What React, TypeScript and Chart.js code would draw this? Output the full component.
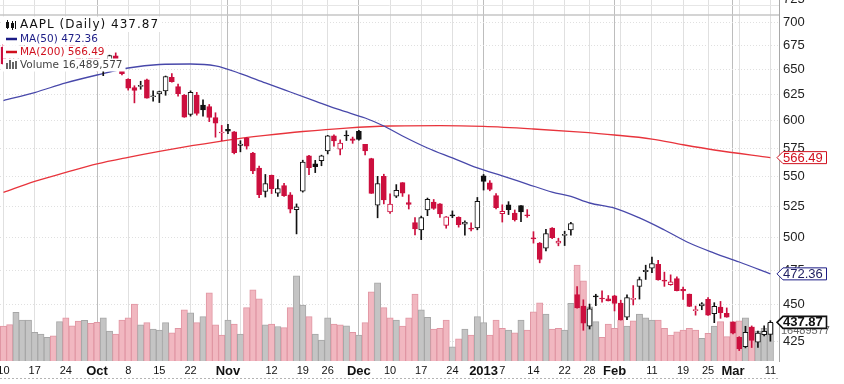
import React, { useEffect, useRef } from "react";
import { Chart, registerables } from "chart.js";

Chart.register(...registerables);

// ---------------- DATA ----------------
const TICKER = "AAPL";

const tradingDays = [
  "2012-09-10","2012-09-11","2012-09-12","2012-09-13","2012-09-14","2012-09-17","2012-09-18","2012-09-19","2012-09-20","2012-09-21",
  "2012-09-24","2012-09-25","2012-09-26","2012-09-27","2012-09-28",
  "2012-10-01","2012-10-02","2012-10-03","2012-10-04","2012-10-05","2012-10-08","2012-10-09","2012-10-10","2012-10-11","2012-10-12",
  "2012-10-15","2012-10-16","2012-10-17","2012-10-18","2012-10-19","2012-10-22","2012-10-23","2012-10-24","2012-10-25","2012-10-26","2012-10-31",
  "2012-11-01","2012-11-02","2012-11-05","2012-11-06","2012-11-07","2012-11-08","2012-11-09","2012-11-12","2012-11-13","2012-11-14",
  "2012-11-15","2012-11-16","2012-11-19","2012-11-20","2012-11-21","2012-11-23","2012-11-26","2012-11-27","2012-11-28","2012-11-29","2012-11-30",
  "2012-12-03","2012-12-04","2012-12-05","2012-12-06","2012-12-07","2012-12-10","2012-12-11","2012-12-12","2012-12-13","2012-12-14",
  "2012-12-17","2012-12-18","2012-12-19","2012-12-20","2012-12-21","2012-12-24","2012-12-26","2012-12-27","2012-12-28","2012-12-31",
  "2013-01-02","2013-01-03","2013-01-04","2013-01-07","2013-01-08","2013-01-09","2013-01-10","2013-01-11","2013-01-14","2013-01-15",
  "2013-01-16","2013-01-17","2013-01-18","2013-01-22","2013-01-23","2013-01-24","2013-01-25","2013-01-28","2013-01-29","2013-01-30","2013-01-31",
  "2013-02-01","2013-02-04","2013-02-05","2013-02-06","2013-02-07","2013-02-08","2013-02-11","2013-02-12","2013-02-13","2013-02-14",
  "2013-02-15","2013-02-19","2013-02-20","2013-02-21","2013-02-22","2013-02-25","2013-02-26","2013-02-27","2013-02-28",
  "2013-03-01","2013-03-04","2013-03-05","2013-03-06","2013-03-07","2013-03-08","2013-03-11",
];

// unadjusted daily prices
const opens = [
  680.45,665.11,666.85,677.37,689.96,699.35,699.88,700.26,699.16,702.41,686.86,688.25,668.74,664.29,678.75,
  671.16,661.81,664.86,671.25,665.2,646.88,638.65,639.74,646.5,629.56,632.35,635.37,648.87,639.59,631.05,612.42,631.0,621.44,620.0,609.43,594.88,
  598.22,595.89,583.52,590.23,573.84,560.63,540.42,554.15,538.91,545.5,537.53,525.2,540.71,571.37,564.25,567.17,575.9,589.55,577.27,590.22,586.79,
  593.65,581.8,568.91,528.94,553.4,523.51,536.48,547.99,531.15,514.75,508.93,525.0,531.47,530.0,512.47,520.35,519.0,513.54,510.29,510.53,
  553.82,547.88,536.97,522.0,529.21,522.5,528.55,521.0,502.68,498.52,494.64,510.31,498.52,504.56,508.81,460.0,451.69,437.83,458.5,457.0,456.98,
  459.11,453.91,444.05,456.47,463.25,474.0,476.5,479.51,467.21,464.52,468.85,461.1,457.69,446.0,449.25,453.85,443.82,448.43,444.05,
  438.0,427.8,421.48,434.51,424.5,429.45,429.75,
];
const highs = [
  683.29,670.1,669.9,685.5,696.98,699.8,702.33,703.99,700.06,705.07,695.12,692.78,672.69,682.17,681.11,
  676.75,666.35,671.86,674.25,666.0,647.56,640.49,644.98,647.2,635.38,635.13,650.3,652.79,642.06,631.77,635.38,633.9,626.55,622.0,614.0,601.96,
  603.0,596.25,587.77,590.74,574.54,562.23,555.0,554.5,550.48,547.45,539.5,530.0,567.5,571.75,567.37,572.0,590.0,590.42,585.8,594.25,588.4,
  594.59,581.8,569.25,553.33,555.2,538.51,546.26,547.99,537.64,518.8,520.0,534.9,533.7,530.2,519.67,524.25,519.46,516.25,514.48,535.4,
  555.0,549.67,538.63,529.3,531.89,525.01,528.72,525.32,507.5,498.99,509.44,510.75,502.22,507.88,514.99,465.73,456.23,453.21,460.2,462.6,459.28,
  459.48,455.94,459.74,466.5,470.0,478.81,484.94,482.38,473.64,471.64,470.16,462.73,457.69,449.17,451.6,455.12,451.54,452.44,447.87,
  438.18,428.2,435.19,435.43,432.01,435.43,439.01,
];
const lows = [
  662.1,656.5,656.0,674.77,687.89,694.61,696.42,699.57,693.62,699.36,682.2,673.0,661.2,660.35,666.75,
  655.5,650.65,662.63,665.55,651.28,636.11,623.55,637.0,628.1,625.3,623.85,631.0,644.0,630.0,609.62,610.76,611.7,610.64,605.55,591.0,587.7,
  594.17,575.75,577.6,580.09,555.75,535.29,535.75,538.65,536.36,536.18,522.62,505.75,539.88,554.75,556.6,562.6,573.09,580.1,572.26,585.25,582.68,
  585.5,572.13,538.77,518.63,530.0,522.18,535.29,536.27,525.8,505.03,501.23,520.36,525.5,518.88,510.24,518.71,511.12,504.66,508.12,509.0,
  541.63,541.0,525.83,515.2,521.25,515.99,515.52,519.02,498.51,483.38,492.5,502.03,496.4,496.63,504.77,450.25,435.0,435.86,452.12,454.5,455.4,
  448.35,442.0,442.22,452.58,454.12,468.25,473.25,467.74,463.22,464.02,459.92,453.85,448.8,442.82,446.6,442.57,437.66,440.65,441.4,
  429.98,419.0,420.75,420.96,421.06,428.61,425.14,
];
const closes = [
  662.74,660.59,669.79,682.98,691.28,699.78,701.91,702.1,698.7,700.09,690.79,673.54,665.18,681.32,667.1,
  659.39,661.31,671.45,666.8,652.59,638.17,635.85,640.91,628.1,629.71,634.76,649.79,644.61,632.64,609.84,634.03,613.36,616.83,609.54,604.0,595.32,
  596.54,576.8,584.62,582.85,558.0,537.75,547.06,542.83,542.9,536.88,525.62,527.68,565.73,560.91,561.7,571.5,589.53,584.78,582.94,589.36,585.28,
  586.19,575.85,538.79,547.24,533.25,529.82,541.39,539.0,529.69,509.79,518.83,533.9,526.31,521.73,519.33,520.17,513.0,515.06,509.59,532.17,
  549.03,542.1,527.0,523.9,525.31,517.1,523.51,520.3,501.75,485.92,506.09,502.68,500.0,504.77,514.01,450.5,439.88,449.83,458.27,456.83,455.49,
  453.62,442.32,457.84,457.35,468.22,474.98,479.93,467.9,467.01,466.59,460.16,459.99,448.85,446.06,450.81,442.8,448.97,444.57,441.4,
  430.47,420.05,431.14,425.66,430.58,431.72,437.87,
];
// cash dividends (ex-date index into tradingDays, amount); the chart shows dividend-adjusted prices
const dividendExDays = [40, 102];
const dividendAmounts = [2.65, 2.65];

// volume, millions of shares
const volumes = [
  15.2,15.8,21.2,17.8,17.8,12.5,11.7,10.3,10.9,17.1,18.8,15.3,17.4,17.7,16.4,
  16.8,18.8,13.0,11.7,17.8,18.8,24.8,15.7,16.7,13.9,13.5,16.7,12.3,14.2,22.2,21.0,16.7,19.3,29.7,15.7,11.3,
  17.8,16.1,11.7,23.2,30.9,27.0,15.7,16.1,15.0,14.5,23.2,37.0,24.3,19.3,11.7,9.1,18.8,16.1,15.7,15.3,12.5,
  11.3,16.7,30.1,34.0,23.2,18.8,17.8,15.2,18.8,29.1,22.2,19.0,13.9,14.2,17.8,6.2,9.6,13.9,11.3,19.3,
  16.7,11.3,17.8,14.2,13.5,12.3,17.8,13.5,21.4,25.3,20.4,13.9,14.2,13.5,25.1,41.7,34.9,23.6,17.1,10.3,16.1,
  14.2,17.8,15.2,17.5,20.4,18.8,17.8,17.8,14.2,11.3,12.7,13.5,14.2,13.5,9.9,12.0,15.2,17.1,10.6,
  17.1,17.5,18.8,14.9,13.0,14.2,16.489577,
];

const ma50Days = [0, 5, 10, 15, 20, 25, 30, 34, 38, 42, 46, 50, 54, 58, 61, 64, 68, 72, 76, 80, 84, 88, 91, 94, 98, 102, 106, 110, 114, 118, 123];
const ma50Values = [619.4, 627.2, 636.7, 644.6, 651.7, 655.3, 655.8, 653.8, 646.1, 636.7, 627.7, 618.9, 610.3, 602.7, 595.2, 586.0, 575.1, 566.2, 557.4, 550.5, 543.6, 536.8, 533.1, 527.7, 523.5, 515.5, 505.9, 495.7, 488.0, 481.2, 472.36];

const ma200Days = [0, 5, 10, 15, 20, 25, 30, 36, 42, 48, 55, 62, 70, 77, 85, 92, 98, 104, 109, 114, 123];
const ma200Values = [536.5, 545.9, 553.5, 560.9, 566.7, 572.0, 576.9, 582.3, 586.5, 590.1, 593.3, 595.2, 595.6, 594.8, 592.4, 589.7, 586.9, 583.2, 578.0, 573.3, 566.49];

const priceTicks = [425, 450, 475, 500, 525, 550, 575, 600, 625, 650, 675, 700, 725];

const gridDays = [0, 5, 10, 15, 20, 25, 30, 35, 36, 38, 43, 48, 52, 57, 62, 67, 72, 76, 77, 80, 85, 90, 94, 98, 99, 104, 109, 113, 117, 118, 123];
const labelDays = [0, 5, 10, 15, 20, 25, 30, 36, 43, 48, 52, 57, 62, 67, 72, 77, 80, 85, 90, 94, 98, 104, 109, 113, 117, 123];
const labelTexts = ["10", "17", "24", "Oct", "8", "15", "22", "Nov", "12", "19", "26", "Dec", "10", "17", "24", "2013", "7", "14", "22", "28", "Feb", "11", "19", "25", "Mar", "11"];
const monthDays = [15, 36, 57, 77, 98, 117];

// ---------------- STYLE ----------------
const FONT_AXIS = '"Liberation Sans", Arial, sans-serif';
const FONT_LEGEND = '"DejaVu Sans", Verdana, sans-serif';
const RED = "#cc0f3e";
const BLACK = "#111111";
const MA50_COLOR = "#4848aa";
const MA200_COLOR = "#e8343c";

function zeroPadding(s: any) {
  s.paddingTop = 0;
  s.paddingBottom = 0;
  s.paddingLeft = 0;
  s.paddingRight = 0;
}

function drawTag(ctx: CanvasRenderingContext2D, y: number, text: string, stroke: string, color: string, bold: boolean, lw: number) {
  const xl = 777, xr = 826.5, h = 12;
  ctx.save();
  ctx.beginPath();
  ctx.moveTo(xl, y);
  ctx.lineTo(xl + 6, y - h / 2);
  ctx.lineTo(xr, y - h / 2);
  ctx.lineTo(xr, y + h / 2);
  ctx.lineTo(xl + 6, y + h / 2);
  ctx.closePath();
  ctx.fillStyle = "#ffffff";
  ctx.fill();
  ctx.lineWidth = lw;
  ctx.strokeStyle = stroke;
  ctx.stroke();
  ctx.fillStyle = color;
  ctx.font = `${bold ? "bold " : ""}13px ${FONT_AXIS}`;
  ctx.textBaseline = "middle";
  ctx.textAlign = "left";
  ctx.fillText(text, xl + 6, y + 0.5);
  ctx.restore();
}

const decorPlugin = {
  id: "decor",
  beforeDatasetsDraw(chart: any) {
    const { ctx, chartArea } = chart;
    ctx.save();
    ctx.strokeStyle = "#e6e6e6";
    ctx.lineWidth = 1;
    ctx.beginPath();
    ctx.moveTo(chartArea.left, 5.5);
    ctx.lineTo(chartArea.right, 5.5);
    ctx.stroke();
    ctx.strokeStyle = "#c6c6c6";
    ctx.lineWidth = 1.5;
    ctx.beginPath();
    ctx.moveTo(chartArea.left, 15);
    ctx.lineTo(chartArea.right, 15);
    ctx.stroke();
    ctx.restore();
  },
  afterDraw(chart: any) {
    const { ctx, chartArea, scales } = chart;
    const n = closes.length;
    ctx.save();
    // separator of the lower panel
    ctx.strokeStyle = "#b4b4b4";
    ctx.lineWidth = 1;
    ctx.setLineDash([2, 2]);
    ctx.beginPath();
    ctx.moveTo(chartArea.left, 378.5);
    ctx.lineTo(chartArea.right, 378.5);
    ctx.stroke();
    ctx.setLineDash([]);

    // ----- legend -----
    ctx.textBaseline = "middle";
    ctx.textAlign = "left";
    const rows = [
      { text: `${TICKER} (Daily) ${closes[n - 1].toFixed(2)}`, color: "#111111", font: `12px ${FONT_LEGEND}`, spacing: "1px", y0: 16.5, y1: 32, yc: 25 },
      { text: `MA(50) ${ma50Values[ma50Values.length - 1].toFixed(2)}`, color: "#1c1c86", font: `10.5px ${FONT_LEGEND}`, spacing: "0px", y0: 32, y1: 45.5, yc: 39 },
      { text: `MA(200) ${ma200Values[ma200Values.length - 1].toFixed(2)}`, color: "#d0101e", font: `10.5px ${FONT_LEGEND}`, spacing: "0px", y0: 45.5, y1: 58.5, yc: 52 },
      { text: `Volume ${Math.round(volumes[n - 1] * 1e6).toLocaleString("en-US")}`, color: "#444444", font: `10.5px ${FONT_LEGEND}`, spacing: "0px", y0: 58.5, y1: 71.5, yc: 65 },
    ];
    rows.forEach((r) => {
      ctx.font = r.font;
      (ctx as any).letterSpacing = r.spacing;
      const w = ctx.measureText(r.text).width;
      ctx.fillStyle = "#ffffff";
      ctx.fillRect(3, r.y0, 20 + w, r.y1 - r.y0);
      ctx.fillStyle = r.color;
      ctx.fillText(r.text, 20, r.yc);
    });
    (ctx as any).letterSpacing = "0px";
    // icons
    ctx.fillStyle = "#111111";
    ctx.fillRect(6, 22, 3, 6);
    ctx.fillRect(7, 20, 1, 9);
    ctx.fillRect(11, 23, 3, 5);
    ctx.fillRect(12, 21, 1, 9);
    ctx.fillRect(15, 21, 1, 8);
    ctx.lineWidth = 2.5;
    ctx.strokeStyle = "#1c1c86";
    ctx.beginPath(); ctx.moveTo(6, 39); ctx.lineTo(17, 39); ctx.stroke();
    ctx.strokeStyle = "#d0101e";
    ctx.beginPath(); ctx.moveTo(6, 52); ctx.lineTo(17, 52); ctx.stroke();
    ctx.fillStyle = "#666666";
    ctx.fillRect(6, 63, 2, 6);
    ctx.fillRect(9, 60, 2, 9);
    ctx.fillRect(12, 62, 2, 7);
    ctx.fillRect(15, 61, 2, 8);

    // ----- value tags on the price axis -----
    const ys = scales.y;
    const volY = scales.vol.getPixelForValue(volumes[n - 1]);
    ctx.fillStyle = "#666666";
    ctx.font = `11px ${FONT_AXIS}`;
    ctx.fillText(String(Math.round(volumes[n - 1] * 1e6)), 781, volY + 8);
    ctx.restore();

    drawTag(ctx, ys.getPixelForValue(ma200Values[ma200Values.length - 1]), ma200Values[ma200Values.length - 1].toFixed(2), "#d0101e", "#d0101e", false, 1);
    drawTag(ctx, ys.getPixelForValue(ma50Values[ma50Values.length - 1]), ma50Values[ma50Values.length - 1].toFixed(2), "#1c1c86", "#1c1c60", false, 1);
    drawTag(ctx, ys.getPixelForValue(closes[n - 1]), closes[n - 1].toFixed(2), "#111111", "#111111", true, 1.6);
  },
};

export default function App() {
  const ref = useRef<HTMLCanvasElement | null>(null);

  useEffect(() => {
    const canvas = ref.current;
    if (!canvas) return;
    const n = closes.length;

    // dividend adjustment factor per day (prices before each ex-date are scaled down)
    const factor = closes.map((_, i) => {
      let f = 1;
      dividendExDays.forEach((d, k) => {
        if (i < d) f *= 1 - dividendAmounts[k] / closes[d - 1];
      });
      return f;
    });
    const aO = opens.map((v, i) => v * factor[i]);
    const aH = highs.map((v, i) => v * factor[i]);
    const aL = lows.map((v, i) => v * factor[i]);
    const aC = closes.map((v, i) => v * factor[i]);

    const up = aC.map((c, i) => (i === 0 ? c >= aO[0] : c >= aC[i - 1]));
    const candleColor = up.map((u) => (u ? BLACK : RED));
    const bodyFill = aC.map((c, i) => (c < aO[i] ? candleColor[i] : "#ffffff"));
    const volFill = up.map((u) => (u ? "#c4c4c4" : "#f1b7c0"));
    const volBorder = up.map((u) => (u ? "#a6a6a6" : "#e096a3"));

    const idx = Array.from({ length: n }, (_, i) => i);

    const chart = new Chart(canvas, {
      type: "bar",
      data: {
        datasets: [
          {
            type: "bar",
            label: "Volume",
            yAxisID: "vol",
            data: idx.map((i) => ({ x: i, y: volumes[i] })),
            backgroundColor: volFill,
            borderColor: volBorder,
            borderWidth: 1,
            barThickness: 6.3,
            grouped: false,
            order: 10,
          } as any,
          {
            type: "line",
            label: "MA(200)",
            yAxisID: "y",
            data: ma200Days.map((d, k) => ({ x: d, y: ma200Values[k] })),
            borderColor: MA200_COLOR,
            borderWidth: 1.3,
            pointRadius: 0,
            cubicInterpolationMode: "monotone",
            order: 6,
          } as any,
          {
            type: "line",
            label: "MA(50)",
            yAxisID: "y",
            data: ma50Days.map((d, k) => ({ x: d, y: ma50Values[k] })),
            borderColor: MA50_COLOR,
            borderWidth: 1.3,
            pointRadius: 0,
            cubicInterpolationMode: "monotone",
            order: 5,
          } as any,
          {
            type: "bar",
            label: "wick",
            yAxisID: "y",
            data: idx.map((i) => ({ x: i, y: [aL[i], aH[i]] })),
            backgroundColor: candleColor,
            borderWidth: 0,
            barThickness: 1,
            grouped: false,
            order: 2,
          } as any,
          {
            type: "bar",
            label: "body",
            yAxisID: "y",
            data: idx.map((i) => ({ x: i, y: [aO[i], aC[i]] })),
            backgroundColor: bodyFill,
            borderColor: candleColor,
            borderWidth: 1,
            borderSkipped: false,
            barThickness: 5,
            minBarLength: 1,
            grouped: false,
            order: 1,
          } as any,
        ],
      },
      options: {
        responsive: false,
        devicePixelRatio: 1,
        animation: false,
        events: [],
        layout: { padding: 0, autoPadding: false },
        plugins: {
          legend: { display: false },
          tooltip: { enabled: false },
          title: { display: false },
        },
        scales: {
          x: {
            type: "linear",
            min: -0.56,
            max: 124.38,
            bounds: "data",
            offset: false,
            afterBuildTicks: (s: any) => {
              s.ticks = gridDays.map((v) => ({ value: v }));
            },
            afterFit: (s: any) => {
              s.height = 23;
              zeroPadding(s);
            },
            ticks: {
              autoSkip: false,
              maxRotation: 0,
              minRotation: 0,
              padding: 3,
              color: "#111111",
              callback: (v: any) => {
                const k = labelDays.indexOf(Number(v));
                return k >= 0 ? labelTexts[k] : "";
              },
              font: (c: any) =>
                c.tick && monthDays.includes(c.tick.value)
                  ? { family: FONT_AXIS, size: 13, weight: "bold" }
                  : { family: FONT_AXIS, size: 11 },
            },
            grid: {
              color: (c: any) => (c.tick && monthDays.includes(c.tick.value) ? "#bdbdbd" : "#e0e0e0"),
              lineWidth: 1,
              drawTicks: false,
              offset: false,
            },
            border: { display: false },
          },
          y: {
            type: "logarithmic",
            position: "right",
            min: 412.2,
            max: 724.8,
            bounds: "data",
            afterBuildTicks: (s: any) => {
              s.ticks = priceTicks.map((v) => ({ value: v }));
            },
            afterFit: (s: any) => {
              s.width = 65;
              zeroPadding(s);
            },
            ticks: {
              autoSkip: false,
              padding: 4,
              color: "#222222",
              font: { family: FONT_AXIS, size: 13 },
              callback: (v: any) => String(v),
            },
            grid: { color: "#e0e0e0", lineWidth: 1, drawTicks: false },
            border: { display: true, color: "#a8a8a8", dash: [1, 2] },
          },
          vol: {
            type: "linear",
            display: false,
            min: 0,
            max: 157,
            afterFit: (s: any) => zeroPadding(s),
          },
        },
      } as any,
      plugins: [decorPlugin],
    });

    return () => chart.destroy();
  }, []);

  return (
    <div style={{ position: "fixed", left: 0, top: 0, width: 844, height: 384, background: "#ffffff" }}>
      <canvas ref={ref} width={844} height={384} style={{ display: "block", width: 844, height: 384 }} />
    </div>
  );
}
